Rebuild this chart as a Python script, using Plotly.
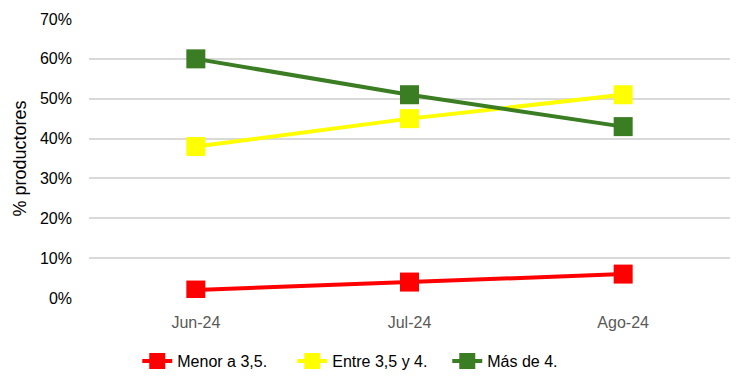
import plotly.graph_objects as go

months = ["Jun-24", "Jul-24", "Ago-24"]
menor = [0.02, 0.04, 0.06]
entre = [0.38, 0.45, 0.51]
mas = [0.60, 0.51, 0.43]
names = ["Menor a 3,5.", "Entre 3,5 y 4.", "Más de 4."]
colors = ["#FF0000", "#FFFF00", "#3A7D22"]
y_ticks = [0, 0.1, 0.2, 0.3, 0.4, 0.5, 0.6, 0.7]

fig = go.Figure()
for vals, nm, c in zip([menor, entre, mas], names, colors):
    fig.add_trace(go.Scatter(
        x=months, y=vals, name=nm, mode="lines+markers",
        line=dict(color=c, width=4),
        marker=dict(symbol="square", size=19, color=c),
    ))

fig.update_layout(
    width=748, height=391,
    margin=dict(l=81, r=26, t=11, b=101, autoexpand=False),
    plot_bgcolor="white", paper_bgcolor="white",
    font=dict(family="Liberation Sans, Arial, sans-serif", size=16, color="#000000"),
    showlegend=True,
    legend=dict(orientation="h", x=0.438, xanchor="center", y=-0.165, yanchor="top",
                font=dict(size=16, color="#000000"), tracegroupgap=0,
                entrywidth=110, entrywidthmode="pixels"),
    xaxis=dict(showgrid=False, showline=False, zeroline=False,
               tickfont=dict(size=16, color="#595959"), ticks="",
               ticklabelstandoff=13,
               range=[-0.5, 2.5]),
    yaxis=dict(range=[0, 0.7], tickvals=y_ticks, tickformat=".0%",
               showgrid=True, gridcolor="#D9D9D9", gridwidth=2,
               zeroline=False, showline=False,
               tickfont=dict(size=16, color="#000000"), ticks="",
               ticklabelstandoff=16,
               title=dict(text="% productores", font=dict(size=18), standoff=8)),
)

fig.write_html("out.html")
